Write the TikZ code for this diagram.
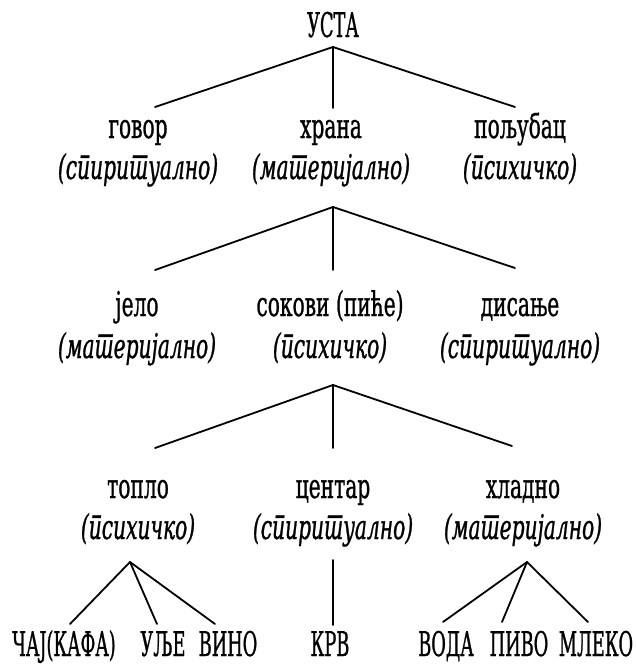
\documentclass[tikz,border=0pt]{standalone}
\usepackage{fontspec}
\setmainfont{DejaVu Serif Condensed}[Script=Cyrillic,Language=Serbian,FakeStretch=0.66,FakeBold=0.8]
\newfontfamily\capsfont{DejaVu Serif Condensed}[Script=Cyrillic,Language=Serbian,FakeStretch=0.58,FakeBold=0.8]
\usetikzlibrary{positioning,calc}
\tikzset{
  wd/.style={anchor=base,inner sep=0pt,font=\fontsize{34}{41}\selectfont},
  nt/.style={anchor=base,inner sep=0pt,font=\fontsize{34}{41}\selectfont\itshape},
  lf/.style={anchor=base,inner sep=0pt,font=\fontsize{34}{41}\capsfont},
  br/.style={line width=1.8pt,line cap=round},
}

\begin{document}
\begin{tikzpicture}[x=1pt,y=-1pt]
  \useasboundingbox (0,0) rectangle (636,665);
  % root
  \node[lf] (usta) at (333,37) {УСТА};
  % first level
  \node[wd] (govor) at (138,138) {говор};
  \node[nt] (govorN) at ([yshift=-41pt]govor.base) {(спиритуално)};
  \node[wd] (hrana) at (331,138) {храна};
  \node[nt] (hranaN) at ([yshift=-41pt]hrana.base) {(материјално)};
  \node[wd] (poljubac) at (520,138) {пољубац};
  \node[nt] (poljubacN) at ([yshift=-41pt]poljubac.base) {(психичко)};
  % second level
  \node[wd] (jelo) at (137,316) {јело};
  \node[nt] (jeloN) at ([yshift=-42pt]jelo.base) {(материјално)};
  \node[wd] (sokovi) at (330,316) {сокови (пиће)};
  \node[nt] (sokoviN) at ([yshift=-42pt]sokovi.base) {(психичко)};
  \node[wd] (disanje) at (520,316) {дисање};
  \node[nt] (disanjeN) at ([yshift=-42pt]disanje.base) {(спиритуално)};
  % third level
  \node[wd] (toplo) at (138,498) {топло};
  \node[nt] (toploN) at ([yshift=-41pt]toplo.base) {(психичко)};
  \node[wd] (centar) at (333,498) {центар};
  \node[nt] (centarN) at ([yshift=-41pt]centar.base) {(спиритуално)};
  \node[wd] (hladno) at (523,498) {хладно};
  \node[nt] (hladnoN) at ([yshift=-41pt]hladno.base) {(материјално)};
  % leaves
  \node[lf] (caj) at (64,656) {ЧАЈ(КАФА)};
  \node[lf] (ulje) at (163,656) {УЉЕ};
  \node[lf] (vino) at (228,656) {ВИНО};
  \node[lf] (krv) at (330,656) {КРВ};
  \node[lf] (voda) at (446,656) {ВОДА};
  \node[lf] (pivo) at (519,656) {ПИВО};
  \node[lf] (mleko) at (596,656) {МЛЕКО};

  % branch points
  \coordinate (u0) at (333,47);
  \coordinate (u1) at (155,107);
  \coordinate (u2) at (333,108);
  \coordinate (u3) at (515,107);
  \coordinate (h0) at (333,207);
  \coordinate (h1) at (155,270);
  \coordinate (h2) at (333,270);
  \coordinate (h3) at (515,268);
  \coordinate (s0) at (333,385);
  \coordinate (s1) at (155,448);
  \coordinate (s2) at (333,448);
  \coordinate (s3) at (512,446);
  \coordinate (t0) at (130,562);
  \coordinate (t1) at (70,624);
  \coordinate (t2) at (157,624);
  \coordinate (t3) at (215,624);
  \coordinate (c0) at (333,560);
  \coordinate (c1) at (333,625);
  \coordinate (x0) at (527,562);
  \coordinate (x1) at (443,622);
  \coordinate (x2) at (502,622);
  \coordinate (x3) at (588,622);

  \foreach \p in {u,h,s,t,x}
    \foreach \k in {1,2,3}
      \draw[br] (\p0) -- (\p\k);
  \draw[br] (c0) -- (c1);
\end{tikzpicture}
\end{document}
